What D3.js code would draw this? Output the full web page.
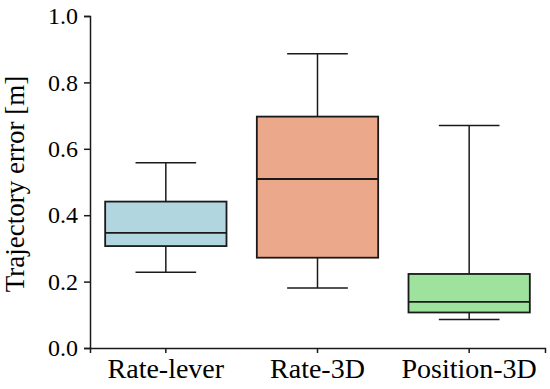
<!DOCTYPE html>
<html>
<head>
<meta charset="utf-8">
<script src="https://cdn.jsdelivr.net/npm/d3@7"></script>
<style>
  body { margin: 0; background: #fff; }
</style>
</head>
<body>
<div id="chart"></div>
<script>
// box summaries
const methods = ['Rate-lever', 'Rate-3D', 'Position-3D'];
const whiskerLow = [0.228, 0.181, 0.086];
const q1 = [0.307, 0.272, 0.107];
const median = [0.347, 0.509, 0.139];
const q3 = [0.441, 0.697, 0.223];
const whiskerHigh = [0.558, 0.886, 0.670];
const boxColors = ['#b2d6e0', '#eca88a', '#9ee29e'];
const yTicks = [0, 0.2, 0.4, 0.6, 0.8, 1.0];

const serif = 'Liberation Serif';
const width = 550, height = 389;
const margin = { top: 16, right: 5, bottom: 41, left: 90 };

const svg = d3.select('#chart').append('svg')
  .attr('width', width)
  .attr('height', height);

const x = d3.scaleBand()
  .domain(methods)
  .range([margin.left, width - margin.right])
  .padding(0);

const y = d3.scaleLinear()
  .domain([0, 1])
  .range([height - margin.bottom, margin.top]);

const boxes = methods.map((m, i) => ({
  name: m,
  lo: whiskerLow[i], q1: q1[i], med: median[i], q3: q3[i], hi: whiskerHigh[i],
  color: boxColors[i]
}));

const boxW = x.bandwidth() * 0.8;
const capW = boxW * 0.5;

const g = svg.append('g').attr('class', 'boxes');

const box = g.selectAll('.box')
  .data(boxes)
  .join('g')
  .attr('class', 'box')
  .attr('transform', d => `translate(${x(d.name) + x.bandwidth() / 2},0)`);

// whisker lines
box.append('line')
  .attr('x1', 0).attr('x2', 0)
  .attr('y1', d => y(d.q3)).attr('y2', d => y(d.hi))
  .attr('stroke', '#1a1a1a').attr('stroke-width', 1.5);
box.append('line')
  .attr('x1', 0).attr('x2', 0)
  .attr('y1', d => y(d.q1)).attr('y2', d => y(d.lo))
  .attr('stroke', '#1a1a1a').attr('stroke-width', 1.5);

// caps
box.selectAll('.cap')
  .data(d => [d.lo, d.hi])
  .join('line')
  .attr('class', 'cap')
  .attr('x1', -capW / 2).attr('x2', capW / 2)
  .attr('y1', v => y(v)).attr('y2', v => y(v))
  .attr('stroke', '#1a1a1a').attr('stroke-width', 1.5);

box.append('rect')
  .attr('x', -boxW / 2)
  .attr('width', boxW)
  .attr('y', d => y(d.q3))
  .attr('height', d => y(d.q1) - y(d.q3))
  .attr('fill', d => d.color)
  .attr('stroke', '#1a1a1a')
  .attr('stroke-width', 1.8);

box.append('line')
  .attr('x1', -boxW / 2).attr('x2', boxW / 2)
  .attr('y1', d => y(d.med)).attr('y2', d => y(d.med))
  .attr('stroke', '#1a1a1a').attr('stroke-width', 1.8);

// axes: lines from d3.axis, labels placed by the same scales
const yAxis = svg.append('g')
  .attr('transform', `translate(${margin.left},0)`)
  .call(d3.axisLeft(y).tickValues(yTicks).tickFormat('').tickSize(6));

const xAxis = svg.append('g')
  .attr('transform', `translate(0,${height - margin.bottom})`)
  .call(d3.axisBottom(x).tickFormat('').tickSize(5));

[yAxis, xAxis].forEach(a => {
  a.select('.domain').attr('stroke', '#1a1a1a').attr('stroke-width', 1.5);
  a.selectAll('line').attr('stroke', '#1a1a1a').attr('stroke-width', 1.5);
  a.selectAll('text').remove();
});

const fmt = d3.format('.1f');
svg.append('g').attr('class', 'y-labels')
  .selectAll('text')
  .data(yTicks)
  .join('text')
  .attr('x', margin.left - 12)
  .attr('y', d => y(d))
  .attr('dy', '0.34em')
  .attr('text-anchor', 'end')
  .attr('fill', '#000')
  .attr('font-family', serif)
  .attr('font-size', 24)
  .text(d => fmt(d));

svg.append('g').attr('class', 'x-labels')
  .selectAll('text')
  .data(methods)
  .join('text')
  .attr('x', d => x(d) + x.bandwidth() / 2)
  .attr('y', height - margin.bottom + 9)
  .attr('dy', '0.76em')
  .attr('text-anchor', 'middle')
  .attr('fill', '#000')
  .attr('font-family', serif)
  .attr('font-size', 28)
  .text(d => d);

svg.append('text')
  .attr('transform', `translate(24,${(y(0) + y(1)) / 2 + 2}) rotate(-90)`)
  .attr('text-anchor', 'middle')
  .attr('fill', '#000')
  .attr('font-family', serif)
  .attr('font-size', 27)
  .text('Trajectory error [m]');
</script>
</body>
</html>
